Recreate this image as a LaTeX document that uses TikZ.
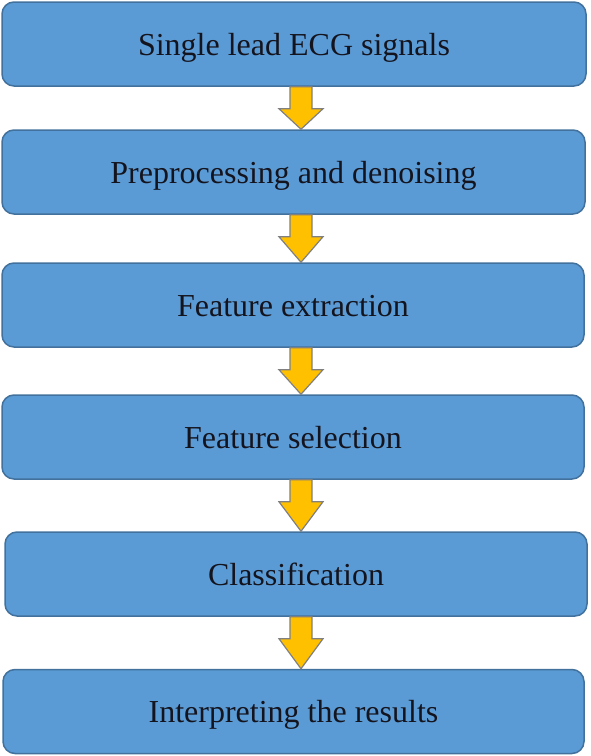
\documentclass[tikz,border=0pt]{standalone}
\usepackage{fontspec}
\setmainfont{Liberation Serif}
\definecolor{boxblue}{RGB}{91,155,213}
\definecolor{boxedge}{RGB}{65,113,156}
\definecolor{arrgold}{RGB}{255,192,0}
\definecolor{arredge}{RGB}{128,128,128}
\definecolor{txtdark}{RGB}{20,20,30}
\usetikzlibrary{calc}

\tikzset{
  stepbox/.style={draw=boxedge, line width=1.5pt, fill=boxblue, rounded corners=12pt,
    minimum height=84pt, inner sep=0pt, text height=22pt, text depth=0pt,
    text=txtdark, font=\fontsize{32}{38}\selectfont},
  flowarr/.style={draw=arredge, line width=1.2pt, fill=arrgold, line join=miter}
}

% block arrow from the bottom of #1 to the top of #2
\newcommand{\flowarrow}[2]{%
  \draw[flowarr] let \p1=(#1.south), \p2=(#2.north) in
    (290pt,\y1) -- (312pt,\y1) -- (312pt,\y1-22pt) -- (323pt,\y1-22pt)
    -- (301pt,\y2) -- (279pt,\y1-22pt) -- (290pt,\y1-22pt) -- cycle;}

\begin{document}
\begin{tikzpicture}[x=1pt, y=-1pt]
  \useasboundingbox (0,0) rectangle (591,756);

  % Steps
  \node[stepbox, minimum width=584pt] (signals) at (294,44) {Single lead ECG signals};
  \node[stepbox, minimum width=583pt] (denoise) at (293.5,172) {Preprocessing and denoising};
  \node[stepbox, minimum width=582pt] (extract) at (293,305) {Feature extraction};
  \node[stepbox, minimum width=582pt] (select) at (293,437) {Feature selection};
  \node[stepbox, minimum width=582pt] (classify) at (296,574) {Classification};
  \node[stepbox, minimum width=581pt] (interpret) at (293.5,711.5) {Interpreting the results};

  % Arrows
  \flowarrow{signals}{denoise}
  \flowarrow{denoise}{extract}
  \flowarrow{extract}{select}
  \flowarrow{select}{classify}
  \flowarrow{classify}{interpret}
\end{tikzpicture}
\end{document}
